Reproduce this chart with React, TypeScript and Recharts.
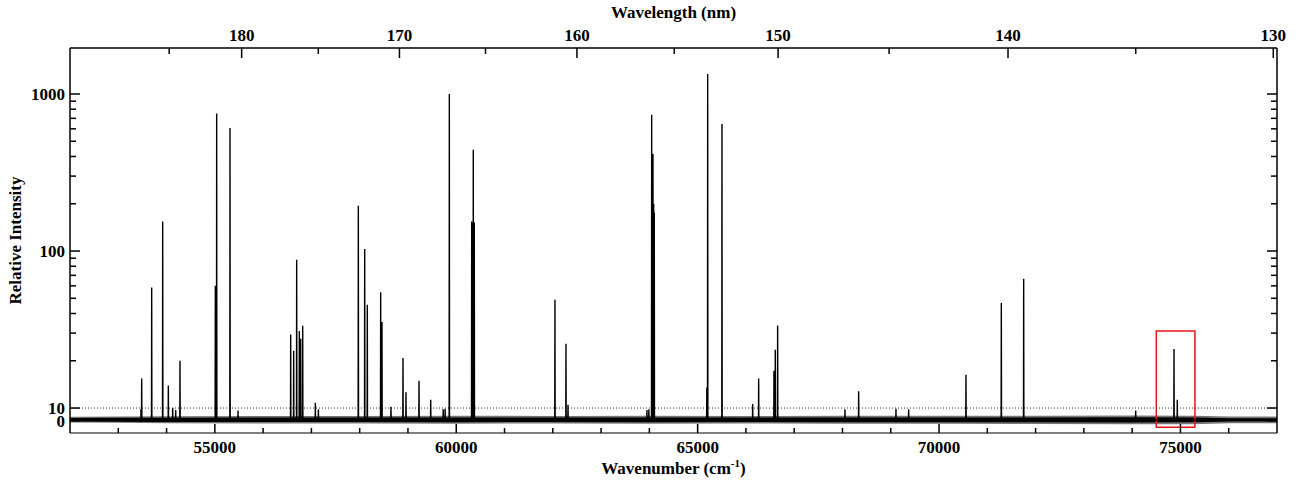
import {
  ComposedChart,
  Line,
  Area,
  XAxis,
  YAxis,
  ReferenceLine,
  ReferenceArea,
  Label,
} from 'recharts';

const FONT = '"Liberation Serif", "Times New Roman", serif';

// emission lines: position (cm-1) and peak relative intensity
const lineWavenumbers = [
  53470, 53485, 53692, 53920, 54037, 54127, 54189, 54278, 55010, 55038, 55314, 55480,
  56571, 56633, 56695, 56750, 56778, 56820, 57082, 57145, 57972, 58104, 58158, 58435,
  58462, 58648, 58897, 58959, 59229, 59471, 59730, 59770, 59857, 60320, 60338, 60353,
  60365, 60374, 62045, 62273, 62315, 63950, 63990, 64048, 64062, 64075, 64090, 64102,
  65190, 65208, 65504, 66140, 66264, 66581, 66608, 66657, 68052, 68335, 69108, 69371,
  70558, 71290, 71753, 74073, 74867, 74935,
];
const lineIntensities = [
  9, 15.4, 58.6, 154, 13.9, 10, 8.5, 20, 60, 750, 607, 8,
  29.4, 23.2, 88, 31, 27.6, 33.4, 10.8, 9, 194, 103, 45.5, 54.6,
  35.3, 10.2, 20.8, 12.6, 14.9, 11.3, 9, 9.5, 1000, 154, 150, 441,
  150, 152, 49, 25.7, 10.5, 8.5, 9, 738, 300, 415, 200, 176,
  13.5, 1340, 645, 10.6, 15.4, 17.3, 23.5, 33.6, 9, 12.8, 9.5, 9,
  16.3, 46.7, 66.7, 8, 23.8, 11.3,
];

// noise floor: dense core and sparser outer fringe
const noiseWavenumbers = [52000, 53000, 54000, 56000, 58000, 60000, 62000, 64000, 66000, 68000, 70000, 72000, 74000, 75300, 76000, 77000];
const coreLow = [-0.6, -0.8, -1.0, -1.0, -1.0, -1.1, -1.0, -1.1, -1.0, -1.1, -1.1, -1.2, -1.3, -1.2, -0.6, -0.6];
const coreHigh = [2.2, 2.3, 2.4, 2.5, 2.5, 2.5, 2.5, 2.6, 2.5, 2.6, 2.6, 2.6, 2.7, 2.6, 2.0, 2.0];
const fringeLow = [-1.4, -1.6, -2.0, -2.2, -2.2, -2.3, -2.2, -2.3, -2.2, -2.3, -2.4, -2.5, -2.8, -2.8, -2.0, -2.0];
const fringeHigh = [3.2, 3.4, 3.6, 3.8, 3.8, 3.9, 3.8, 4.0, 3.8, 3.9, 3.9, 4.0, 4.2, 4.0, 3.4, 3.4];
const baseline = 0.5;

const wavenumberTicks = [53000, 54000, 55000, 56000, 57000, 58000, 59000, 60000, 61000, 62000, 63000, 64000, 65000, 66000, 67000, 68000, 69000, 70000, 71000, 72000, 73000, 74000, 75000, 76000];
const wavelengthTicks = [185, 180, 175, 170, 165, 160, 155, 150, 145, 140, 135, 130];
const intensityTicks = [0, 10, 20, 30, 40, 50, 60, 70, 80, 90, 100, 200, 300, 400, 500, 600, 700, 800, 900, 1000];
const intensityLabels = [0, 10, 100, 1000];

// linear below 10, log above
const LIN = 0.0081;
const toAxis = (v: number) => (v >= 10 ? Math.log10(v) : 1 + (v - 10) * LIN);
const fromAxis = (t: number) => (t >= 1 ? Math.pow(10, t) : 10 + (t - 1) / LIN);

type Row = { x: number; y?: number; core?: [number, number]; fringe?: [number, number] };

const rows: Row[] = [];
noiseWavenumbers.forEach((x, i) =>
  rows.push({
    x,
    core: [toAxis(coreLow[i]), toAxis(coreHigh[i])],
    fringe: [toAxis(fringeLow[i]), toAxis(fringeHigh[i])],
  })
);
rows.push({ x: 52000, y: toAxis(baseline) });
lineWavenumbers.forEach((x, i) => {
  rows.push({ x: x - 4, y: toAxis(baseline) });
  rows.push({ x, y: toAxis(lineIntensities[i]) });
  rows.push({ x: x + 4, y: toAxis(baseline) });
});
rows.push({ x: 77000, y: toAxis(baseline) });
rows.sort((a, b) => a.x - b.x);

const BottomTick = ({ x, y, payload }: any) => {
  const major = payload.value % 5000 === 0;
  return (
    <g>
      <line x1={x} x2={x} y1={y} y2={y - (major ? 9 : 5)} stroke="#000" strokeWidth={1.5} />
      {major && (
        <text x={x} y={y + 20} textAnchor="middle" fontFamily={FONT} fontWeight="bold" fontSize={17}>
          {payload.value}
        </text>
      )}
    </g>
  );
};

const TopTick = ({ x, y, payload }: any) => {
  const nm = Math.round(1e7 / payload.value);
  const major = nm % 10 === 0;
  return (
    <g>
      <line x1={x} x2={x} y1={y} y2={y + (major ? 10 : 6)} stroke="#000" strokeWidth={1.5} />
      {major && (
        <text x={x} y={y - 7} textAnchor="middle" fontFamily={FONT} fontWeight="bold" fontSize={17}>
          {nm}
        </text>
      )}
    </g>
  );
};

const LeftTick = ({ x, y, payload }: any) => {
  const v = Math.round(fromAxis(payload.value));
  const major = intensityLabels.includes(v);
  return (
    <g>
      <line x1={x} x2={x + (major ? 10 : 6)} y1={y} y2={y} stroke="#000" strokeWidth={1.5} />
      {major && (
        <text x={x - 5} y={y + 6} textAnchor="end" fontFamily={FONT} fontWeight="bold" fontSize={17}>
          {v}
        </text>
      )}
    </g>
  );
};

const RightTick = ({ x, y, payload }: any) => {
  const v = Math.round(fromAxis(payload.value));
  const major = intensityLabels.includes(v);
  return <line x1={x} x2={x - (major ? 10 : 6)} y1={y} y2={y} stroke="#000" strokeWidth={1.5} />;
};

const BottomTitle = ({ viewBox }: any) => (
  <text x={viewBox.x + viewBox.width / 2} y={viewBox.y + 41} textAnchor="middle" fontFamily={FONT} fontWeight="bold" fontSize={17}>
    <tspan>Wavenumber (cm</tspan>
    <tspan dy={-7} fontSize={11}>-1</tspan>
    <tspan dy={7}>)</tspan>
  </text>
);

const TopTitle = ({ viewBox }: any) => (
  <text x={viewBox.x + viewBox.width / 2} y={viewBox.y + 18} textAnchor="middle" fontFamily={FONT} fontWeight="bold" fontSize={17}>
    Wavelength (nm)
  </text>
);

const LeftTitle = ({ viewBox }: any) => {
  const cx = viewBox.x + 15;
  const cy = viewBox.y + viewBox.height / 2;
  return (
    <text x={cx} y={cy} transform={`rotate(-90, ${cx}, ${cy})`} textAnchor="middle" dominantBaseline="central" fontFamily={FONT} fontWeight="bold" fontSize={17}>
      Relative Intensity
    </text>
  );
};

const Y_DOMAIN = [0.841, 3.293];
const X_DOMAIN = [52000, 77000];

export default function App() {
  return (
    <div style={{ position: 'fixed', left: 0, top: 0, background: '#fff' }}>
      <ComposedChart width={1304} height={481} data={rows} margin={{ top: 0, right: 0, bottom: 0, left: 0 }}>
        <XAxis
          dataKey="x"
          type="number"
          domain={X_DOMAIN}
          allowDataOverflow
          ticks={wavenumberTicks}
          interval={0}
          height={48}
          tickSize={0}
          tickMargin={0}
          tick={<BottomTick />}
          axisLine={{ stroke: '#000', strokeWidth: 1 }}
        >
          <Label content={<BottomTitle />} />
        </XAxis>
        <XAxis
          xAxisId="top"
          orientation="top"
          dataKey="x"
          type="number"
          domain={X_DOMAIN}
          allowDataOverflow
          ticks={wavelengthTicks.map(w => 1e7 / w)}
          interval={0}
          height={48}
          tickSize={0}
          tickMargin={0}
          tick={<TopTick />}
          axisLine={{ stroke: '#000', strokeWidth: 1.5 }}
        >
          <Label content={<TopTitle />} />
        </XAxis>
        <YAxis
          type="number"
          domain={Y_DOMAIN}
          allowDataOverflow
          ticks={intensityTicks.map(toAxis)}
          interval={0}
          width={70}
          tickSize={0}
          tickMargin={0}
          tick={<LeftTick />}
          axisLine={{ stroke: '#000', strokeWidth: 1.5 }}
        >
          <Label content={<LeftTitle />} />
        </YAxis>
        <YAxis
          yAxisId="right"
          orientation="right"
          type="number"
          domain={Y_DOMAIN}
          allowDataOverflow
          ticks={intensityTicks.map(toAxis)}
          interval={0}
          width={27}
          tickSize={0}
          tickMargin={0}
          tick={<RightTick />}
          axisLine={{ stroke: '#000', strokeWidth: 1.5 }}
        />
        <ReferenceLine y={toAxis(10)} stroke="#333" strokeWidth={1} strokeDasharray="1 2" />
        <Area
          dataKey="fringe"
          type="linear"
          stroke="none"
          fill="#777"
          fillOpacity={1}
          connectNulls
          isAnimationActive={false}
        />
        <Area
          dataKey="core"
          type="linear"
          stroke="none"
          fill="#000"
          fillOpacity={1}
          connectNulls
          isAnimationActive={false}
        />
        <Line
          dataKey="y"
          type="linear"
          stroke="#000"
          strokeWidth={1.4}
          dot={false}
          activeDot={false}
          connectNulls
          isAnimationActive={false}
        />
        <ReferenceArea
          x1={74500}
          x2={75300}
          y1={toAxis(-5.2)}
          y2={toAxis(31)}
          fill="none"
          fillOpacity={0}
          stroke="#e8131b"
          strokeWidth={1.5}
        />
      </ComposedChart>
    </div>
  );
}
